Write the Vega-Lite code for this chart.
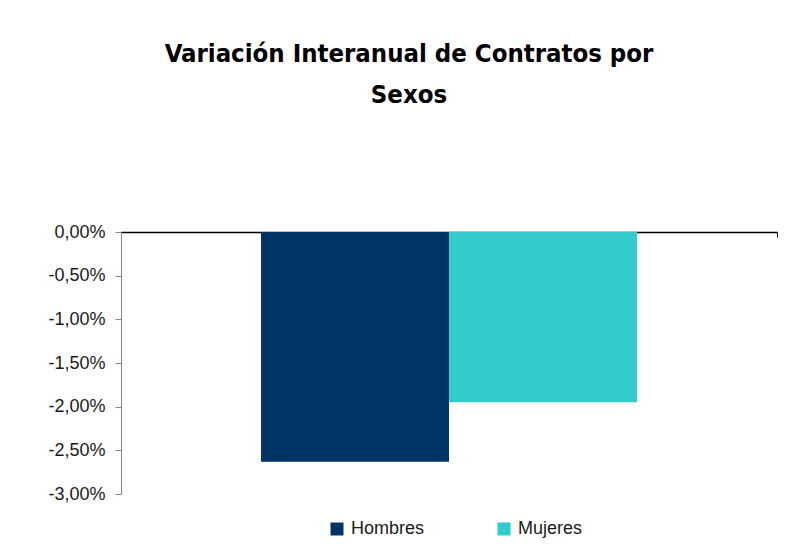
{
  "$schema": "https://vega.github.io/schema/vega-lite/v6.json",
  "width": 656,
  "height": 262,
  "autosize": {"type": "pad"},
  "padding": {"left": 47, "top": 41, "right": 10, "bottom": 10},
  "background": "white",
  "title": {
    "text": ["Variación  Interanual de Contratos por", "Sexos"],
    "font": "DejaVu Sans Condensed",
    "fontSize": 25.5,
    "fontWeight": "bold",
    "lineHeight": 41,
    "color": "#000000",
    "anchor": "middle",
    "offset": 115,
    "dx": -40
  },
  "data": {
    "values": [
      {"grupo": "Total", "sexo": "Hombres", "variacion": -0.0263},
      {"grupo": "Total", "sexo": "Mujeres", "variacion": -0.0195}
    ]
  },
  "mark": {"type": "bar"},
  "encoding": {
    "x": {
      "field": "grupo",
      "type": "nominal",
      "scale": {"paddingInner": 0, "paddingOuter": 0},
      "axis": {
        "orient": "top",
        "labels": false,
        "title": null,
        "domainColor": "#000000",
        "domainWidth": 1.5,
        "ticks": true,
        "tickBand": "extent",
        "tickColor": "#000000",
        "tickSize": -5
      }
    },
    "xOffset": {
      "field": "sexo",
      "type": "nominal",
      "scale": {"paddingInner": 0, "paddingOuter": 0.745}
    },
    "y": {
      "field": "variacion",
      "type": "quantitative",
      "scale": {"domain": [-0.03, 0], "nice": false},
      "axis": {
        "title": null,
        "values": [0, -0.005, -0.01, -0.015, -0.02, -0.025, -0.03],
        "labelExpr": "replace(replace(format(datum.value, '.2%'), '.', ','), '−', '-')",
        "grid": false,
        "domainColor": "#868686",
        "tickColor": "#868686",
        "tickSize": 6,
        "labelPadding": 10,
        "labelFont": "Liberation Sans",
        "labelFontSize": 18,
        "labelColor": "#1a1a1a"
      }
    },
    "color": {
      "field": "sexo",
      "type": "nominal",
      "scale": {"domain": ["Hombres", "Mujeres"], "range": ["#003366", "#33CCCC"]},
      "legend": {
        "title": null,
        "orient": "none",
        "direction": "horizontal",
        "legendX": 207,
        "legendY": 288,
        "symbolType": "square",
        "symbolSize": 169,
        "symbolStrokeWidth": 0,
        "symbolOpacity": 1,
        "labelFont": "Liberation Sans",
        "labelFontSize": 18,
        "labelColor": "#1a1a1a",
        "columnPadding": 70,
        "labelOffset": 5
      }
    }
  },
  "config": {"view": {"stroke": null}}
}
